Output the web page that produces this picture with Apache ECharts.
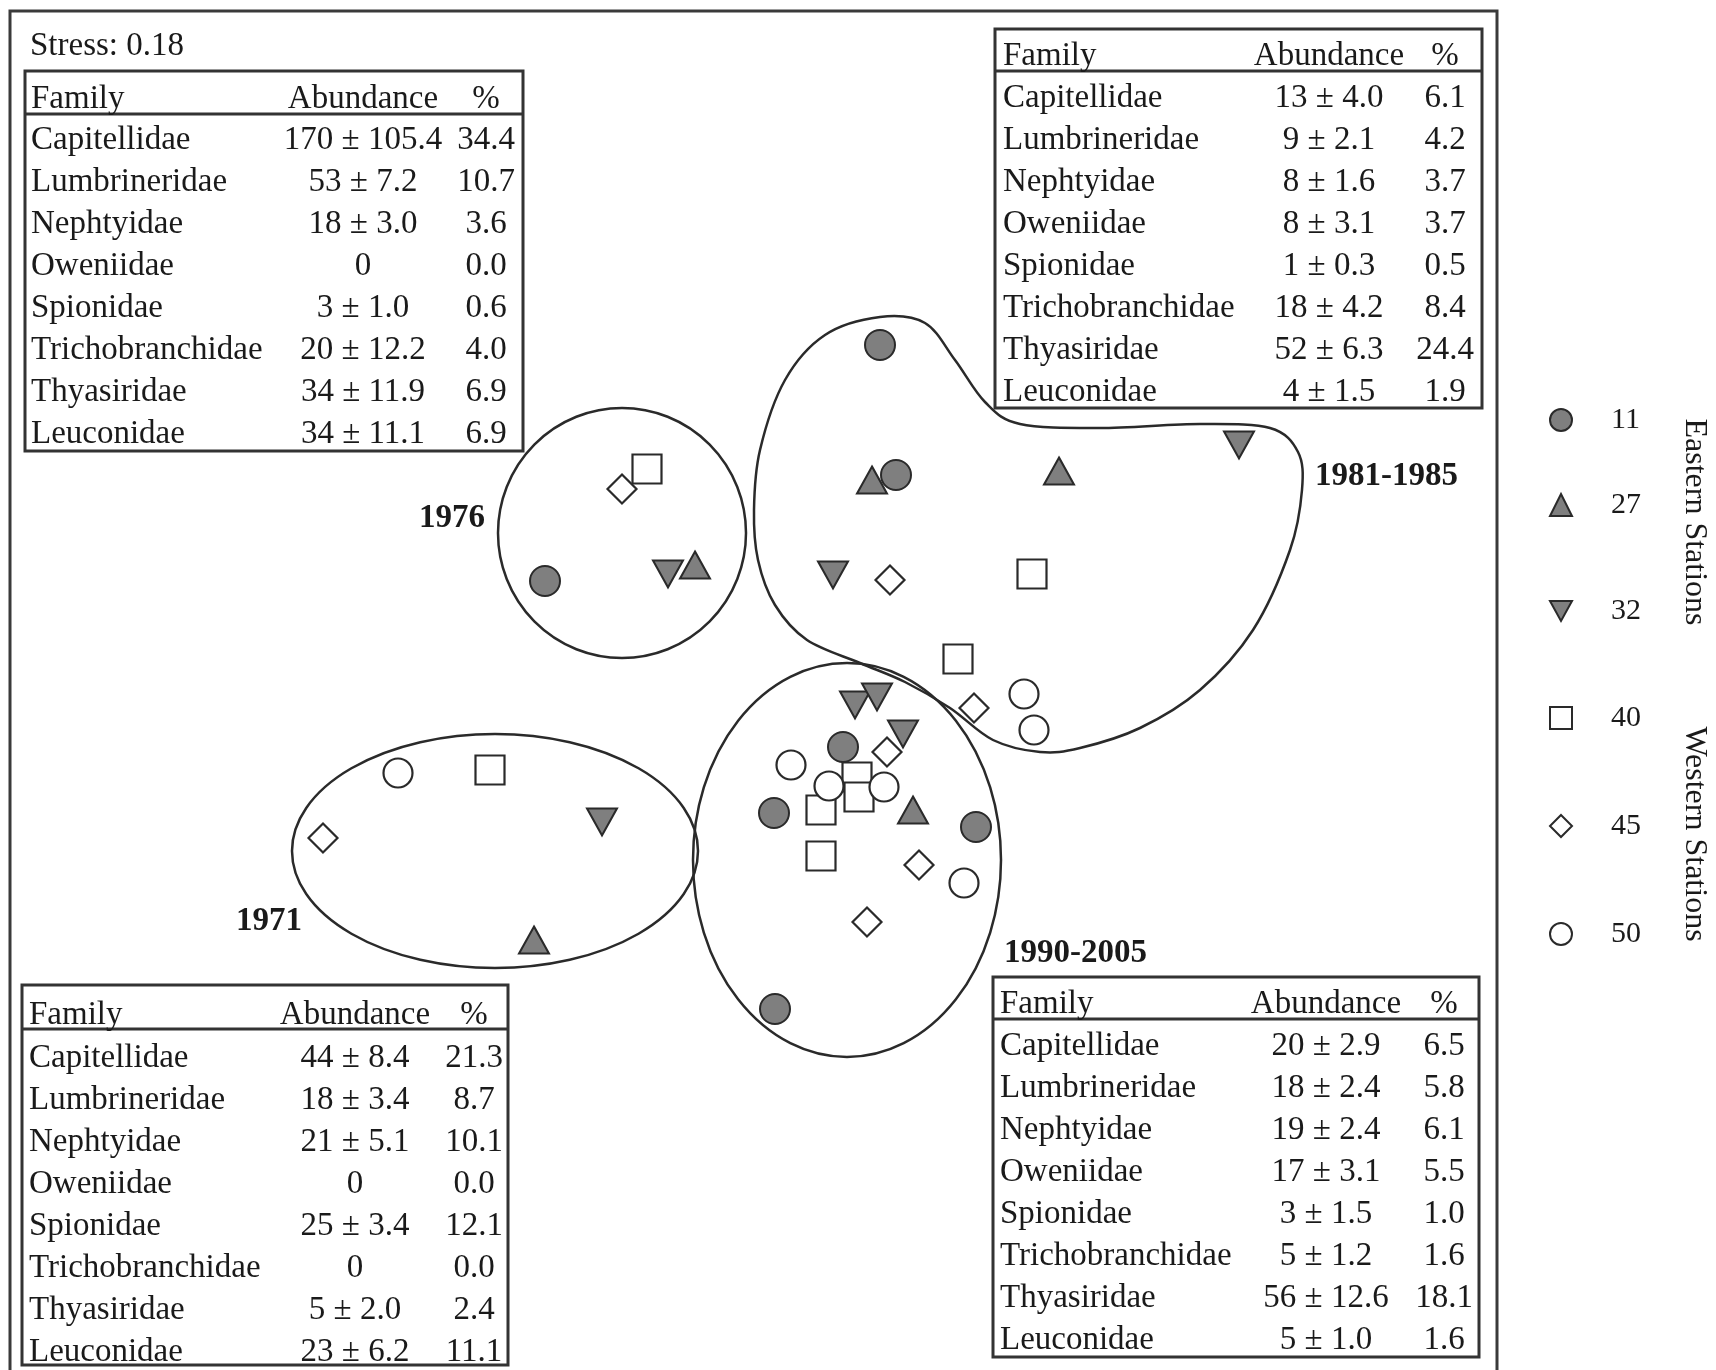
<!DOCTYPE html>
<html><head><meta charset="utf-8">
<script src="https://cdn.jsdelivr.net/npm/echarts@6/dist/echarts.min.js"></script>
<style>html,body{margin:0;padding:0;background:#fff}#c{width:1716px;height:1370px}</style>
</head><body><div id="c"></div>
<script>
// ---- MDS ordination points by station (x, y in ordination units) ----
const st11 = [[-3.55,1.19],[-0.20,3.55],[-0.04,2.25],[-0.57,-0.47],[-1.26,-1.13],[0.76,-1.27],[-1.25,-3.09]];
const st27 = [[-3.66,-2.40],[-2.05,1.35],[-0.28,2.20],[1.59,2.29],[0.13,-1.10]];
const st32 = [[-2.98,-1.22],[-2.32,1.26],[3.39,2.55],[-0.67,1.25],[-0.45,-0.05],[-0.23,0.03],[0.03,-0.34]];
const st40 = [[-4.10,-0.70],[-2.53,2.31],[1.32,1.26],[0.58,0.41],[-0.43,-0.77],[-0.41,-0.97],[-0.79,-1.10],[-0.79,-1.56]];
const st45 = [[-5.77,-1.38],[-2.78,2.11],[-0.10,1.20],[0.74,-0.08],[-0.13,-0.52],[0.19,-1.65],[-0.33,-2.22]];
const st50 = [[-5.02,-0.73],[1.24,0.06],[1.34,-0.30],[-1.09,-0.65],[-0.71,-0.86],[-0.16,-0.87],[0.64,-1.83]];
const stationNames = ['11','27','32','40','45','50'];

// ---- group outlines (ordination units) ----
const ellipseGroups = ['1971','1976','1990-2005'];
const ellipseCenters = [[-4.05,-1.51],[-2.78,1.67],[-0.53,-1.60]];
const ellipseRadii = [[2.03,1.17],[1.24,1.25],[1.54,1.97]];
const blob1981 = [[-0.20,3.83],[0.25,3.77],[0.55,3.40],[0.85,2.98],[1.20,2.76],[2.00,2.72],[3.00,2.76],[3.70,2.72],
  [3.98,2.48],[4.02,2.10],[3.90,1.50],[3.53,0.70],[3.00,0.10],[2.40,-0.28],[1.80,-0.48],[1.40,-0.52],[0.93,-0.40],
  [0.50,-0.08],[0.05,0.18],[-0.40,0.37],[-0.93,0.60],[-1.25,0.95],[-1.42,1.40],[-1.46,1.90],[-1.40,2.50],[-1.15,3.20],[-0.75,3.65]];

// ---- tables ----
const headers = ['Family','Abundance','%'];
const families = ['Capitellidae','Lumbrineridae','Nephtyidae','Oweniidae','Spionidae','Trichobranchidae','Thyasiridae','Leuconidae'];
const abund1976 = ['170 ± 105.4','53 ± 7.2','18 ± 3.0','0','3 ± 1.0','20 ± 12.2','34 ± 11.9','34 ± 11.1'];
const pct1976 = ['34.4','10.7','3.6','0.0','0.6','4.0','6.9','6.9'];
const abund1981 = ['13 ± 4.0','9 ± 2.1','8 ± 1.6','8 ± 3.1','1 ± 0.3','18 ± 4.2','52 ± 6.3','4 ± 1.5'];
const pct1981 = ['6.1','4.2','3.7','3.7','0.5','8.4','24.4','1.9'];
const abund1971 = ['44 ± 8.4','18 ± 3.4','21 ± 5.1','0','25 ± 3.4','0','5 ± 2.0','23 ± 6.2'];
const pct1971 = ['21.3','8.7','10.1','0.0','12.1','0.0','2.4','11.1'];
const abund1990 = ['20 ± 2.9','18 ± 2.4','19 ± 2.4','17 ± 3.1','3 ± 1.5','5 ± 1.2','56 ± 12.6','5 ± 1.0'];
const pct1990 = ['6.5','5.8','6.1','5.5','1.0','1.6','18.1','1.6'];
const stressText = 'Stress: 0.18';
const sideTitles = ['Eastern Stations','Western Stations'];
const periodLabels = ['1971','1976','1981-1985','1990-2005'];

// ---- styling / layout ----
const FONT = '"Liberation Serif","Times New Roman",serif';
const INK = '#1a1a1a';
const LINE = '#2a2a2a';
const TY = 3;

function txt(s, x, y, align, size, weight, rot) {
  const el = {type:'text', x:x, y:y + (rot ? 0 : TY), z:20,
    style:{text:s, font:(weight||'normal')+' '+(size||33)+'px '+FONT, fill:INK,
      align:align, verticalAlign:'middle', textAlign:align, textVerticalAlign:'middle'}};
  if (rot) el.rotation = rot;
  return el;
}
function table(L, abund, pct) {
  const els = [];
  els.push({type:'rect', z:20, shape:{x:L.x0, y:L.y0, width:L.x1-L.x0, height:L.y1-L.y0}, style:{fill:'none', stroke:'#333', lineWidth:3}});
  els.push({type:'line', z:20, shape:{x1:L.x0, y1:L.sep, x2:L.x1, y2:L.sep}, style:{stroke:'#333', lineWidth:3}});
  els.push(txt(headers[0], L.fx, L.hy, 'left'));
  els.push(txt(headers[1], L.ax, L.hy, 'center'));
  els.push(txt(headers[2], L.px, L.hy, 'center'));
  families.forEach(function(f, i){
    const y = L.ry + i*L.step;
    els.push(txt(f, L.fx, y, 'left'));
    els.push(txt(abund[i], L.ax, y, 'center'));
    els.push(txt(pct[i], L.px, y, 'center'));
  });
  return els;
}
const graphics = [].concat(
  [{type:'rect', z:20, shape:{x:10, y:11, width:1487, height:1400}, style:{fill:'none', stroke:'#3a3a3a', lineWidth:3}}],
  [txt(stressText, 30, 43, 'left')],
  table({x0:25, y0:71, x1:523, y1:451, sep:114, hy:96, ry:137, step:42, fx:31, ax:363, px:486}, abund1976, pct1976),
  table({x0:995, y0:29, x1:1482, y1:408, sep:71, hy:53, ry:95, step:42.1, fx:1003, ax:1329, px:1445}, abund1981, pct1981),
  table({x0:22, y0:985, x1:508, y1:1365, sep:1029, hy:1012, ry:1055, step:42, fx:29, ax:355, px:474}, abund1971, pct1971),
  table({x0:993, y0:977, x1:1479, y1:1357, sep:1019, hy:1001, ry:1043, step:42, fx:1000, ax:1326, px:1444}, abund1990, pct1990),
  [txt(periodLabels[0], 236, 918, 'left', 33, 'bold'),
   txt(periodLabels[1], 419, 515, 'left', 33, 'bold'),
   txt(periodLabels[2], 1315, 473, 'left', 33, 'bold'),
   txt(periodLabels[3], 1004, 950, 'left', 33, 'bold'),
   txt(sideTitles[0], 1694, 522, 'center', 32, 'normal', -Math.PI/2),
   txt(sideTitles[1], 1694, 834, 'center', 32, 'normal', -Math.PI/2)]
);

const filled = {color:'#7f7f7f', borderColor:LINE, borderWidth:2, opacity:1};
const open = {color:'#ffffff', borderColor:LINE, borderWidth:2.2, opacity:1};
const downTri = 'path://M0,0L20,0L10,18Z';
const stationData = [st11, st27, st32, st40, st45, st50];
const stationSymbols = ['circle','triangle',downTri,'rect','diamond','circle'];
const stationSizes = [30,[30,27],[30,27],29,29,29];
const stationStyles = [filled, filled, filled, open, open, open];
const legendCenters = [420, 505, 611, 718, 826, 934];

const scatterSeries = stationNames.map(function(n, i){
  return {type:'scatter', name:n, data:stationData[i], symbol:stationSymbols[i], symbolSize:stationSizes[i],
    itemStyle:stationStyles[i], z:5, silent:true, emphasis:{disabled:true}};
});
const legends = stationNames.map(function(n, i){
  return {data:[n], orient:'vertical', left:1549, top:legendCenters[i]-15, padding:0,
    itemWidth:22, itemHeight:22, selectedMode:false,
    textStyle:{fontFamily:FONT, fontSize:30, color:INK, padding:[0,0,0,34]}};
});

const chart = echarts.init(document.getElementById('c'), null, {renderer:'canvas'});
chart.setOption({
  animation:false,
  backgroundColor:'#ffffff',
  grid:{left:0, right:0, top:0, bottom:0, containLabel:false},
  xAxis:{type:'value', min:-9, max:8.16, show:false, splitLine:{show:false}},
  yAxis:{type:'value', min:-6.7, max:7.0, show:false, splitLine:{show:false}},
  legend:legends,
  graphic:{elements:graphics},
  series:[
    {type:'custom', name:'groups', silent:true, z:2, clip:false,
      data:ellipseCenters.map(function(c, i){ return [c[0], c[1], ellipseRadii[i][0], ellipseRadii[i][1]]; }),
      renderItem:function(params, api){
        const c = api.coord([api.value(0), api.value(1)]);
        const s = api.size([api.value(2), api.value(3)]);
        const rx = s[0], ry = s[1];
        const d = 'M' + (c[0]-rx) + ',' + c[1] + ' A' + rx + ',' + ry + ' 0 1 0 ' + (c[0]+rx) + ',' + c[1] +
                  ' A' + rx + ',' + ry + ' 0 1 0 ' + (c[0]-rx) + ',' + c[1] + ' Z';
        return {type:'path', shape:{pathData:d}, style:{fill:'none', stroke:LINE, lineWidth:2.5}};
      }},
    {type:'custom', name:'1981-1985', silent:true, z:2, clip:false, data:blob1981,
      renderItem:function(params, api){
        if (params.dataIndex !== 0) return null;
        const P = blob1981.map(function(p){ return api.coord(p); });
        const n = P.length;
        let d = 'M' + P[0][0] + ',' + P[0][1];
        for (let i = 0; i < n; i++) {
          const p0 = P[(i-1+n)%n], p1 = P[i], p2 = P[(i+1)%n], p3 = P[(i+2)%n];
          const c1 = [p1[0]+(p2[0]-p0[0])/6, p1[1]+(p2[1]-p0[1])/6];
          const c2 = [p2[0]-(p3[0]-p1[0])/6, p2[1]-(p3[1]-p1[1])/6];
          d += ' C' + c1[0] + ',' + c1[1] + ' ' + c2[0] + ',' + c2[1] + ' ' + p2[0] + ',' + p2[1];
        }
        d += ' Z';
        return {type:'path', shape:{pathData:d}, style:{fill:'none', stroke:LINE, lineWidth:2.5}};
      }}
  ].concat(scatterSeries)
});
</script>
</body></html>
